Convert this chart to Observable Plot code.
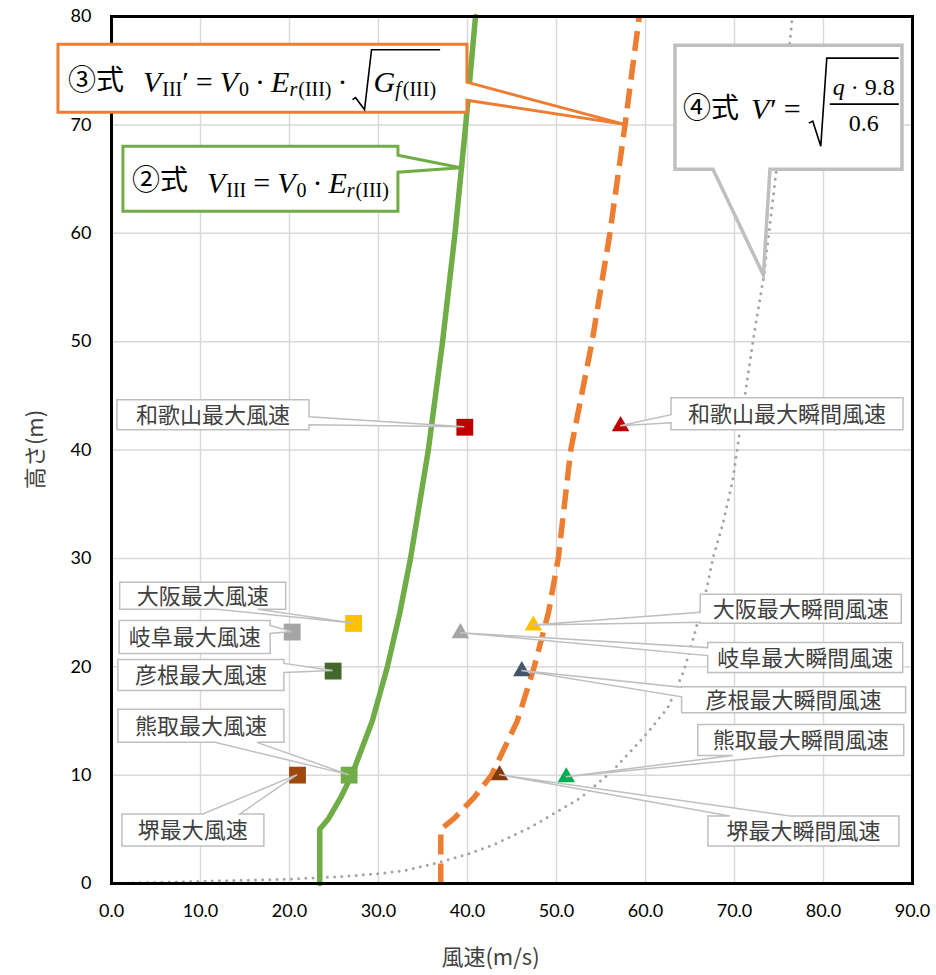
<!DOCTYPE html>
<html><head><meta charset="utf-8">
<script src="https://cdn.jsdelivr.net/npm/d3@7"></script>
<script src="https://cdn.jsdelivr.net/npm/@observablehq/plot@0.6"></script>
<style>body{margin:0;overflow:hidden;background:#fff}</style>
</head><body><div id="chart"></div>
<script>
// ---------- data ----------
const xTicks = [0,10,20,30,40,50,60,70,80,90];
const yTicks = [0,10,20,30,40,50,60,70,80];

// ②式 / ③式 curves (height m, speed m/s)
const lineHeights = [0,5,6,8,10,15,20,25,30,40,50,60,70,80];
const eq2Speeds   = [23.4,23.4,24.4,25.8,27.0,29.3,31.0,32.4,33.6,35.6,37.2,38.6,39.8,40.9];
const eq3Speeds   = [37.0,37.0,38.5,40.8,42.7,45.6,47.5,49.1,50.2,51.6,54.0,56.0,57.7,59.3];

// ④式 curve
const eq4Speeds  = [0,10,20,25,30,33,37,40,43,47.1,52.7,56.3,59.8,62.5,64.3,65.4,66.9,67.6,68.7,69.8,70.4,71.2,72.2,73.3,74.7,75.3,76.5];
const eq4Heights = [0,0.2,0.4,0.6,0.9,1.2,2.0,2.7,3.6,5.2,7.9,10.4,13.5,16.2,19.6,22.7,27.3,30.1,33.2,37.2,40.6,45.2,50.7,56.1,65.8,70.0,80.0];

// observed stations
const stationNames   = ["和歌山","大阪","岐阜","彦根","熊取","堺"];
const maxWindSpeed   = [39.7,27.2,20.3,24.9,26.7,20.9];
const maxWindHeight  = [42.1,24.0,23.2,19.6,10.0,10.0];
const gustSpeed      = [57.2,47.4,39.2,46.1,51.1,43.6];
const gustHeight     = [42.2,23.8,23.1,19.6,9.8,10.0];
const squareColors   = ["#C00000","#FFC000","#A5A5A5","#43682B","#70AD47","#9E480E"];
const triangleColors = ["#C00000","#FFC000","#A5A5A5","#44546A","#00B050","#843C0C"];

const xTitle = "風速(m/s)";
const yTitle = "高さ(m)";

// ---------- callout layout (box centre in data units, size in px, wedge side/offsets) ----------
const squareLabelPos   = [[11.46,43.2],[10.3,26.5],[9.4,22.7],[10.1,19.2],[10.1,14.5],[9.2,4.9]];
const squareLabelSize  = [[192,30],[166,27],[151,33],[166,31],[166,33],[142,32]];
const squareWedge      = [["right",17,25],["bottom",97,138],["right",5,13],["right",4,13],["bottom",97,139],["top",81,118]];
const triangleLabelPos  = [[75.96,43.3],[77.5,25.3],[78.0,20.8],[76.7,16.9],[77.5,13.2],[77.8,4.8]];
const triangleLabelSize = [[232,32],[201,29],[195,30],[224,26],[206,31],[191,30]];
const triangleWedge     = [["left",17,25],["left",18,28],["left",5,13],["left",0.5,10],["bottom",35,84],["top",22,82]];

// ---------- tables ----------
const eq2Data = lineHeights.map((h,i)=>({x:eq2Speeds[i], y:h}));
const eq3Data = lineHeights.map((h,i)=>({x:eq3Speeds[i], y:h}));
const eq4Data = eq4Heights.map((h,i)=>({x:eq4Speeds[i], y:h}));
const squares = stationNames.map((n,i)=>({x:maxWindSpeed[i], y:maxWindHeight[i], c:squareColors[i]}));
const triangles = stationNames.map((n,i)=>({x:gustSpeed[i], y:gustHeight[i], c:triangleColors[i]}));

const chart = Plot.plot({
  width: 936, height: 975,
  marginLeft: 111, marginRight: 24, marginTop: 16, marginBottom: 92,
  x: {domain:[0,90]},
  y: {domain:[0,80]},
  color: {type:"identity"},
  style: {fontFamily:"Lato, 'Open Sans', sans-serif", fontSize:"18px", color:"black", background:"white"},
  marks: [
    Plot.gridX(xTicks, {stroke:"#D9D9D9", strokeOpacity:1, strokeWidth:1.5}),
    Plot.gridY(yTicks, {stroke:"#D9D9D9", strokeOpacity:1, strokeWidth:1.5}),
    Plot.axisX({ticks:xTicks, tickSize:0, tickPadding:21, tickFormat:d=>d.toFixed(1), label:null}),
    Plot.axisY({ticks:yTicks, tickSize:0, tickPadding:20, label:null}),
    Plot.line(eq4Data, {x:"x", y:"y", stroke:"#A5A5A5", strokeWidth:3, strokeDasharray:"0 7.2", strokeLinecap:"round"}),
    Plot.line(eq3Data, {x:"x", y:"y", stroke:"#ED7D31", strokeWidth:5.5, strokeDasharray:"20 9", strokeLinecap:"butt"}),
    Plot.line(eq2Data, {x:"x", y:"y", stroke:"#70AD47", strokeWidth:5.5}),
    Plot.dot(squares, {x:"x", y:"y", fill:"c", symbol:"square", r:9.5}),
    Plot.dot(triangles, {x:"x", y:"y", fill:"c", symbol:"triangle", r:6.5}),
    Plot.frame({stroke:"black", strokeWidth:3})
  ]
});
document.getElementById("chart").append(chart);

const sxo = chart.scale("x"), syo = chart.scale("y");
const xs = d3.scaleLinear(sxo.domain, sxo.range);
const ys = d3.scaleLinear(syo.domain, syo.range);
const svg = d3.select(chart);
const cjk = "'Noto Sans CJK JP', sans-serif";
const serif = "'Liberation Serif', 'DejaVu Serif', serif";

// axis titles
svg.append("text").attr("x", (xs.range()[0]+xs.range()[1])/2 - 21).attr("y", 957).attr("dy","0.36em")
  .attr("text-anchor","middle").attr("font-family",cjk).attr("font-size",22).attr("fill","#404040").text(xTitle);
svg.append("text").attr("transform",`translate(35,${(ys.range()[0]+ys.range()[1])/2}) rotate(-90)`).attr("dy","0.36em")
  .attr("text-anchor","middle").attr("font-family",cjk).attr("font-size",22).attr("fill","#404040").text(yTitle);

function wedgePath(L,T,W,H,side,a,b,tx,ty){
  const R=L+W,B=T+H; const p=[[L,T]];
  if(side==="top") p.push([L+a,T],[tx,ty],[L+b,T]);
  p.push([R,T]);
  if(side==="right") p.push([R,T+a],[tx,ty],[R,T+b]);
  p.push([R,B]);
  if(side==="bottom") p.push([L+b,B],[tx,ty],[L+a,B]);
  p.push([L,B]);
  if(side==="left") p.push([L,T+b],[tx,ty],[L,T+a]);
  return "M"+p.map(q=>q.join(",")).join("L")+"Z";
}

const g = svg.append("g").attr("text-anchor","start");
function stationCallout(label, pos, size, wedge, tip){
  const [w,h]=size; const cx=xs(pos[0]), cy=ys(pos[1]);
  const L=cx-w/2, T=cy-h/2;
  g.append("path").attr("d", wedgePath(L,T,w,h,wedge[0],wedge[1],wedge[2],xs(tip[0]),ys(tip[1])))
    .attr("fill","white").attr("stroke","#BFBFBF").attr("stroke-width",1.5);
  g.append("text").attr("x",cx).attr("y",cy).attr("dy","0.36em").attr("text-anchor","middle")
    .attr("font-family",cjk).attr("font-size",22).attr("fill","#404040").text(label);
}
stationNames.forEach((n,i)=>{
  stationCallout(n+"最大風速", squareLabelPos[i], squareLabelSize[i], squareWedge[i], [maxWindSpeed[i],maxWindHeight[i]]);
  stationCallout(n+"最大瞬間風速", triangleLabelPos[i], triangleLabelSize[i], triangleWedge[i], [gustSpeed[i],gustHeight[i]]);
});

// ---------- formula callouts ----------
function mathRun(parent, x, y, segs, size){
  let cx=x, rs=null;
  for(const s of segs){
    if(s.gap!==undefined){ cx+=s.gap; continue; }
    if(s.rad==="start"){ rs=cx; cx+=s.w; continue; }
    if(s.rad==="end"){
      parent.append("path").attr("d",`M${rs},${y+s.t0}L${rs+3},${y+s.t0-2}L${rs+12},${y+s.bot}L${rs+19},${y+s.top}H${cx+4}`)
        .attr("fill","none").attr("stroke","black").attr("stroke-width",1.6);
      cx+=4; continue;
    }
    const t=parent.append("text").attr("x",cx).attr("y",y+(s.dy||0)).attr("text-anchor","start")
      .attr("font-family", s.cjk?cjk:serif).attr("font-size", s.s||size)
      .attr("font-style", s.i?"italic":"normal").attr("fill","black").text(s.t);
    cx+=t.node().getComputedTextLength()+(s.k||0);
  }
  return cx;
}
function formulaBox(pos, w, h, stroke, sw, wedge, tip){
  const cx=xs(pos[0]), cy=ys(pos[1]); const L=cx-w/2, T=cy-h/2;
  g.append("path").attr("d", wedgePath(L,T,w,h,wedge[0],wedge[1],wedge[2],xs(tip[0]),ys(tip[1])))
    .attr("fill","white").attr("stroke",stroke).attr("stroke-width",sw).attr("stroke-linejoin","miter");
  return [L,T];
}
const SUB=20, SD=4, MS=30;
// ③式
{
  const [L,T]=formulaBox([17.02,74.26],409,68,"#ED7D31",3,["right",38,56],[eq3Speeds[12],lineHeights[12]]);
  mathRun(g, L+10, T+46, [{t:"③式", cjk:1, s:28}], 28);
  mathRun(g, L+85, T+47.5, [
    {t:"V",i:1,k:1},{t:"III",s:SUB,dy:SD},{t:"′"},{gap:7},{t:"="},{gap:7},
    {t:"V",i:1,k:1},{t:"0",s:SUB,dy:SD},{gap:6},{t:"·"},{gap:6},
    {t:"E",i:1},{t:"r",i:1,s:SUB,dy:SD,k:1},{t:"(III)",s:SUB,dy:SD},{gap:6},{t:"·"},{gap:5},
    {rad:"start",w:21},{t:"G",i:1},{t:"f",i:1,s:SUB,dy:SD,k:2},{t:"(III)",s:SUB,dy:SD},
    {rad:"end",t0:8,bot:18,top:-42}
  ], MS);
}
// ②式
{
  const [L,T]=formulaBox([16.79,64.99],275,65,"#70AD47",3,["right",9,26],[39.3,66]);
  mathRun(g, L+9, T+44, [{t:"②式", cjk:1, s:28}], 28);
  mathRun(g, L+84, T+47, [
    {t:"V",i:1,k:1},{t:"III",s:SUB,dy:SD},{gap:7},{t:"="},{gap:7},
    {t:"V",i:1,k:1},{t:"0",s:SUB,dy:SD},{gap:6},{t:"·"},{gap:6},
    {t:"E",i:1},{t:"r",i:1,s:SUB,dy:SD,k:1},{t:"(III)",s:SUB,dy:SD}
  ], MS);
}
// ④式
{
  const [L,T]=formulaBox([76.12,71.59],227,124,"#BFBFBF",3.5,["bottom",38,95],[eq4Speeds[23],eq4Heights[23]]);
  const yb=T+74;
  mathRun(g, L+8, yb-1, [{t:"④式", cjk:1, s:28}], 28);
  let cx = mathRun(g, L+76, yb, [{t:"V",i:1,k:1},{t:"′"},{gap:7},{t:"="},{gap:8}], MS);
  const rs=cx;
  const num=g.append("text").attr("y",yb-24).attr("text-anchor","middle").attr("font-family",serif).attr("font-size",24).attr("fill","black");
  num.append("tspan").attr("font-style","italic").text("q");
  num.append("tspan").text(" · 9.8");
  const den=g.append("text").attr("y",yb+12).attr("text-anchor","middle").attr("font-family",serif).attr("font-size",24).attr("fill","black").text("0.6");
  const fw=Math.max(num.node().getComputedTextLength(), den.node().getComputedTextLength())+6;
  const fx=rs+20+fw/2+1;
  num.attr("x",fx); den.attr("x",fx);
  g.append("line").attr("x1",rs+21).attr("x2",rs+22+fw).attr("y1",yb-15).attr("y2",yb-15).attr("stroke","black").attr("stroke-width",1.6);
  g.append("path").attr("d",`M${rs},${yb+4}L${rs+4},${yb+2}L${rs+12},${yb+27}L${rs+18},${yb-61}H${rs+22+fw}`)
    .attr("fill","none").attr("stroke","black").attr("stroke-width",1.6);
}
</script></body></html>
